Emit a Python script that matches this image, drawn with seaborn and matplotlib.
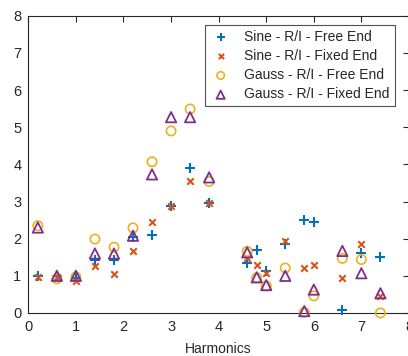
import matplotlib
matplotlib.use("Agg")
import matplotlib.pyplot as plt
import seaborn as sns

# harmonics (x positions)
harmonics = [0.2, 0.6, 1.0, 1.4, 1.8, 2.2, 2.6, 3.0, 3.4, 3.8,
             4.6, 4.8, 5.0, 5.4, 5.8, 6.0, 6.6, 7.0, 7.4]

sine_free = [1.0, 1.0, 0.95, 1.42, 1.42, 2.05, 2.1, 2.88, 3.89, 2.95,
             1.35, 1.7, 1.12, 1.86, 2.51, 2.45, 0.08, 1.62, 1.52]
sine_fixed = [0.97, 0.97, 0.86, 1.26, 1.06, 1.66, 2.45, 2.88, 3.55, 2.95,
              1.48, 1.28, 1.07, 1.94, 1.2, 1.28, 0.93, 1.85, 0.45]
gauss_free = [2.35, 0.92, 0.97, 1.99, 1.77, 2.29, 4.07, 4.9, 5.49, 3.54,
              1.66, 0.95, 0.73, 1.21, 0.02, 0.46, 1.47, 1.44, 0.0]
gauss_fixed = [2.3, 1.0, 1.0, 1.6, 1.6, 2.08, 3.73, 5.27, 5.27, 3.65,
               1.63, 0.96, 0.75, 1.0, 0.05, 0.63, 1.67, 1.07, 0.53]

labels = ["Sine - R/I - Free End", "Sine - R/I - Fixed End",
          "Gauss - R/I - Free End", "Gauss - R/I - Fixed End"]
colors = ["#0072BD", "#D95319", "#EDB120", "#7E2F8E"]

sns.set_style("white")
plt.rcParams['font.family'] = ['Liberation Sans', 'DejaVu Sans']

fig = plt.figure(figsize=(4.08, 3.56), dpi=100)
ax = fig.add_axes([0.0694, 0.1208, 0.933, 0.835])

axis_col = "#262626"

# line-art markers
sns.scatterplot(x=harmonics, y=sine_free, marker="+", s=45, color=colors[0],
                linewidth=1.5, label=labels[0], ax=ax, clip_on=False, zorder=3)
sns.scatterplot(x=harmonics, y=sine_fixed, marker="x", s=22, color=colors[1],
                linewidth=1.5, label=labels[1], ax=ax, clip_on=False, zorder=3)
# open markers
sns.scatterplot(x=harmonics, y=gauss_free, marker="o", s=45, color=colors[2],
                facecolor="none", edgecolor=colors[2], linewidth=1.2,
                label=labels[2], ax=ax, clip_on=False, zorder=3)
sns.scatterplot(x=harmonics, y=gauss_fixed, marker="^", s=55, color=colors[3],
                facecolor="none", edgecolor=colors[3], linewidth=1.3,
                label=labels[3], ax=ax, clip_on=False, zorder=3)

ax.set_xlim(0, 8)
ax.set_ylim(0, 8)
ax.set_xticks(range(0, 9))
ax.set_yticks(range(0, 9))
ax.set_xlabel("Harmonics", fontsize=10, color=axis_col, labelpad=6)
ax.set_ylabel("")

ax.tick_params(direction="in", length=4, width=0.8, top=True, right=True,
               labelsize=10.5, colors=axis_col, pad=5)
for sp in ax.spines.values():
    sp.set_visible(True)
    sp.set_color(axis_col)
    sp.set_linewidth(0.8)

leg = ax.legend(loc="upper right", bbox_to_anchor=(0.962, 0.97), fontsize=10,
                frameon=True, fancybox=False, edgecolor=axis_col,
                handletextpad=0.9, borderpad=0.35, labelspacing=0.38,
                handlelength=1.6, borderaxespad=0, markerscale=0.8)
leg.get_frame().set_linewidth(0.8)

fig.savefig("out.png", dpi=100)
